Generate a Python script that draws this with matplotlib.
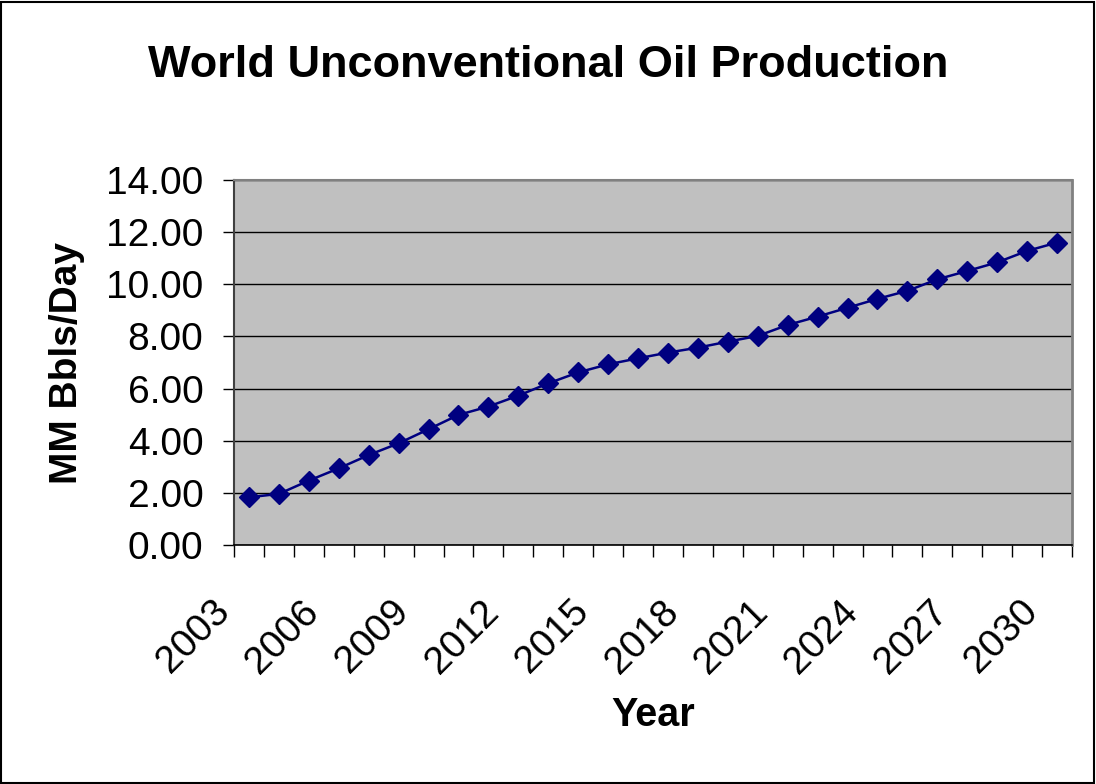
import matplotlib
matplotlib.use("Agg")
import matplotlib.pyplot as plt
from matplotlib.patches import Rectangle
from matplotlib.transforms import ScaledTranslation
import numpy as np

years = list(range(2003, 2031))
production = [1.83, 1.96, 2.47, 2.94, 3.45, 3.90, 4.44, 4.99, 5.31, 5.73,
              6.20, 6.62, 6.93, 7.16, 7.38, 7.57, 7.80, 8.02, 8.44, 8.76,
              9.10, 9.44, 9.75, 10.19, 10.51, 10.84, 11.28, 11.60]
label_years = [str(y) for y in years[::3]]
yticks = [0, 2, 4, 6, 8, 10, 12, 14]

plt.rcParams['font.family'] = ['Liberation Sans', 'DejaVu Sans']

fig = plt.figure(figsize=(10.96, 7.84), dpi=100)
fig.patches.append(Rectangle((0.001, 0.001), 0.997, 0.997, transform=fig.transFigure,
                             fill=False, edgecolor='black', linewidth=1.5))

ax = fig.add_axes([234/1096, 1-545/784, (1072-234)/1096, (545-180)/784])
ax.set_facecolor('#C0C0C0')

x = np.arange(len(years))
ax.plot(x, production, color='#000080', linewidth=1.8, marker='D', markersize=10,
        markerfacecolor='#000080', markeredgecolor='#000080', zorder=3)

ax.set_xlim(-0.5, len(years) - 0.5)
ax.set_ylim(0, 14)
ax.set_yticks(yticks)
ax.set_yticklabels([f"{v:.2f}" for v in yticks], fontsize=28)
ax.yaxis.grid(True, color='black', linewidth=1.0)
ax.set_axisbelow(True)

ax.set_xticks(np.arange(-0.5, len(years)))
ax.set_xticklabels([])
ax.set_xticks(x[::3], minor=True)
ax.set_xticklabels(label_years, minor=True, rotation=45, ha='right', va='center',
                   rotation_mode='anchor', fontsize=28)
ax.tick_params(axis='x', which='major', direction='out', length=8.6, width=1, color='black')
ax.tick_params(axis='x', which='minor', length=0, pad=44)
ax.tick_params(axis='y', direction='out', length=8, width=1, color='black', pad=14)

shift = ScaledTranslation(-0.25, 0, fig.dpi_scale_trans)
for lbl in ax.get_xticklabels(minor=True):
    lbl.set_transform(lbl.get_transform() + shift)

ax.spines['left'].set_color('#404040')
ax.spines['left'].set_linewidth(1.5)
ax.spines['bottom'].set_color('black')
ax.spines['bottom'].set_linewidth(1.2)
ax.spines['top'].set_color('#808080')
ax.spines['top'].set_linewidth(1.5)
ax.spines['right'].set_color('#808080')
ax.spines['right'].set_linewidth(2)

ax.set_ylabel('MM Bbls/Day', fontsize=28, fontweight='bold')
ax.yaxis.set_label_coords(-0.178, 0.5)
ax.set_xlabel('Year', fontsize=28.5, fontweight='bold')
ax.xaxis.set_label_coords(0.5, -0.413)

fig.text(548/1096, 1-77/784, 'World Unconventional Oil Production', ha='center', va='baseline',
         fontsize=32.5, fontweight='bold')

fig.savefig('out.png', dpi=100)
